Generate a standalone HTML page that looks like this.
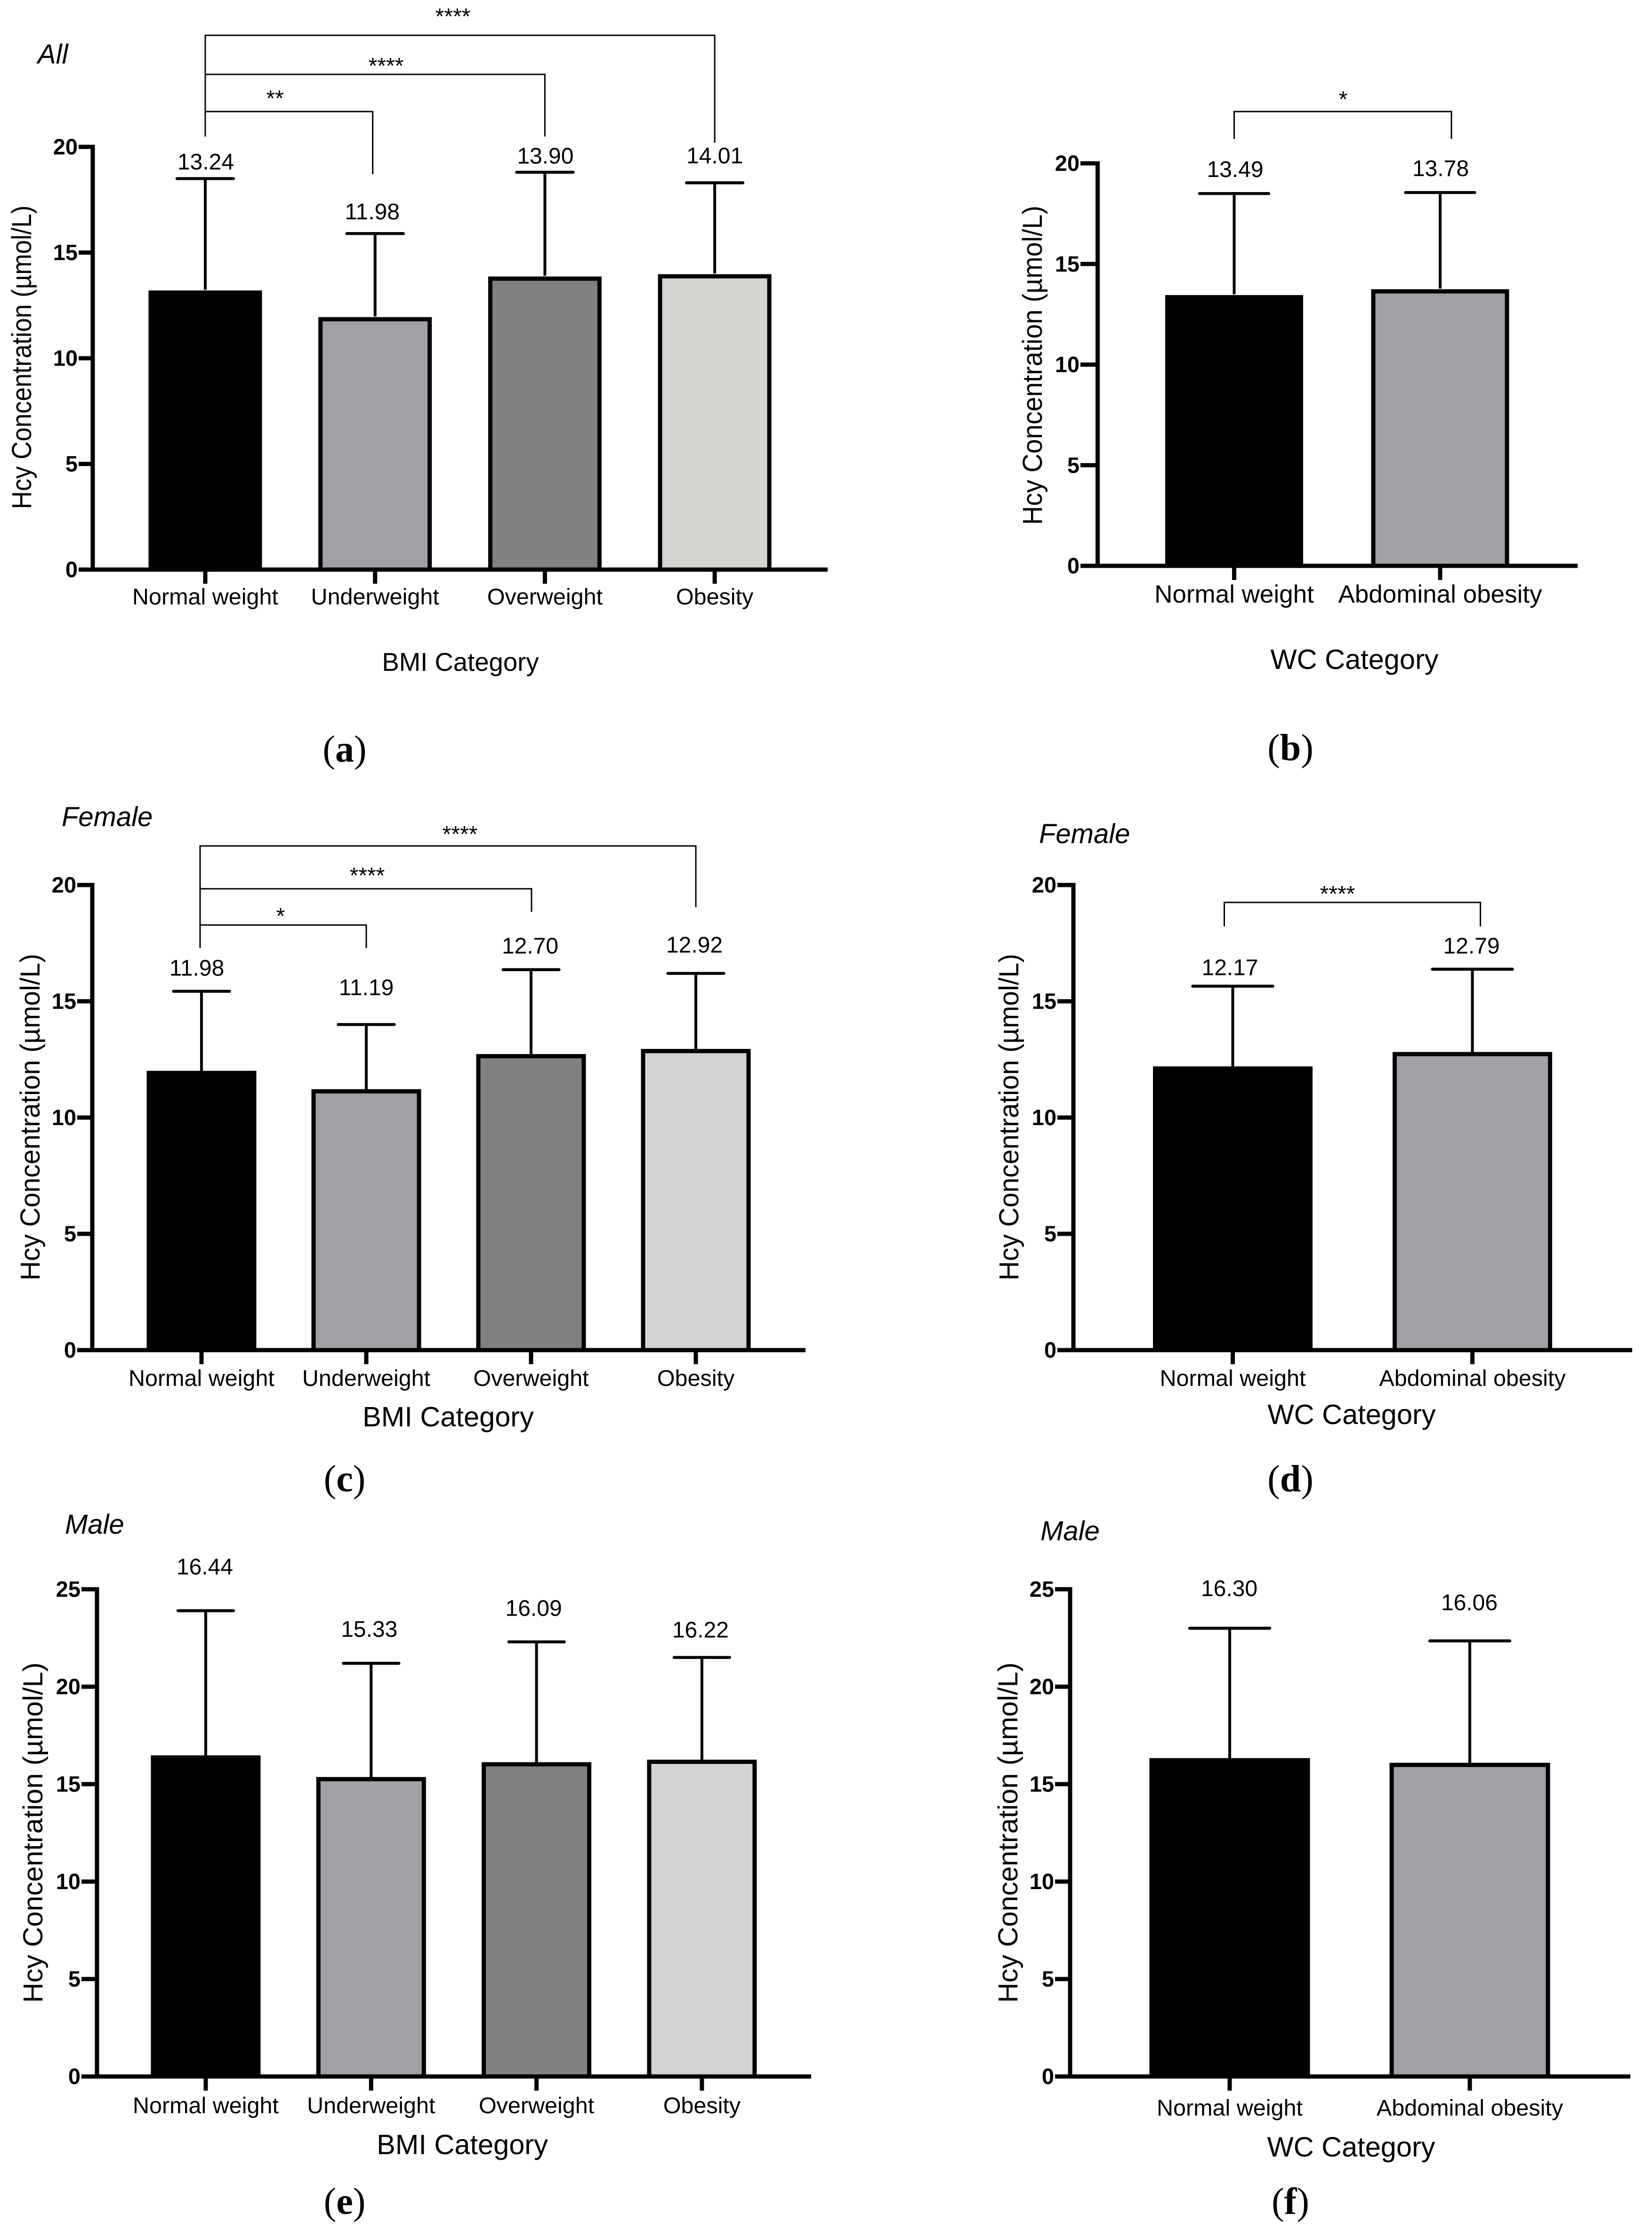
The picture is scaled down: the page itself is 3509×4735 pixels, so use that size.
<!DOCTYPE html>
<html lang="en">
<head>
<meta charset="utf-8">
<title>Hcy concentration by BMI and WC category</title>
<style>
html,body{margin:0;padding:0;background:#fff;}
svg{display:block;}
text{font-family:"Liberation Sans",Arial,sans-serif;fill:#000;}
.panel-title{font-style:italic;font-size:58px;}
.axis-title-y{font-size:58px;text-anchor:middle;}
.axis-title-x{font-size:59.5px;text-anchor:middle;}
.caption{font-family:"Liberation Serif",serif;font-size:80px;text-anchor:middle;}
.caption tspan{font-family:"Liberation Serif",serif;font-weight:bold;}
</style>
</head>
<body>
<svg id="figure" xmlns="http://www.w3.org/2000/svg" width="3509" height="4735" viewBox="0 0 3509 4735">
  <rect x="0" y="0" width="3509" height="4735" fill="#fff"/>

  <text class="panel-title" x="80" y="135">All</text>
  <text class="axis-title-y" transform="translate(66,759) rotate(-90)" textLength="645" lengthAdjust="spacingAndGlyphs">Hcy Concentration (µmol/L)</text>
  <text class="axis-title-x" x="978" y="1425" style="font-size:54.5px">BMI Category</text>
  <text class="caption" x="732" y="1618">(<tspan>a</tspan>)</text>

  <text class="axis-title-y" transform="translate(2213,776) rotate(-90)" textLength="678" lengthAdjust="spacingAndGlyphs">Hcy Concentration (µmol/L)</text>
  <text class="axis-title-x" x="2877" y="1421">WC Category</text>
  <text class="caption" x="2741" y="1615">(<tspan>b</tspan>)</text>

  <text class="panel-title" x="131" y="1755">Female</text>
  <text class="axis-title-y" transform="translate(84,2373) rotate(-90)" textLength="694" lengthAdjust="spacingAndGlyphs">Hcy Concentration (µmol/L)</text>
  <text class="axis-title-x" x="952" y="3030">BMI Category</text>
  <text class="caption" x="732" y="3168">(<tspan>c</tspan>)</text>

  <text class="panel-title" x="2207" y="1791">Female</text>
  <text class="axis-title-y" transform="translate(2163,2373) rotate(-90)" textLength="694" lengthAdjust="spacingAndGlyphs">Hcy Concentration (µmol/L)</text>
  <text class="axis-title-x" x="2871" y="3025">WC Category</text>
  <text class="caption" x="2741" y="3168">(<tspan>d</tspan>)</text>

  <text class="panel-title" x="138" y="3258">Male</text>
  <text class="axis-title-y" transform="translate(90,3893) rotate(-90)" textLength="723" lengthAdjust="spacingAndGlyphs">Hcy Concentration (µmol/L)</text>
  <text class="axis-title-x" x="982" y="4576">BMI Category</text>
  <text class="caption" x="732" y="4703">(<tspan>e</tspan>)</text>

  <text class="panel-title" x="2210" y="3272">Male</text>
  <text class="axis-title-y" transform="translate(2161,3893) rotate(-90)" textLength="723" lengthAdjust="spacingAndGlyphs">Hcy Concentration (µmol/L)</text>
  <text class="axis-title-x" x="2870" y="4581">WC Category</text>
  <text class="caption" x="2741" y="4703">(<tspan>f</tspan>)</text>
</svg>
<script>
// ---- Chart data ----
const categoriesBMI = ["Normal weight", "Underweight", "Overweight", "Obesity"];
const categoriesWC = ["Normal weight", "Abdominal obesity"];
const ticksTo20 = [0, 5, 10, 15, 20];
const ticksTo25 = [0, 5, 10, 15, 20, 25];

const meansA = [13.24, 11.98, 13.90, 14.01];
const sdA = [5.26, 3.92, 4.90, 4.29];
const meansB = [13.49, 13.78];
const sdB = [5.01, 4.77];
const meansC = [11.98, 11.19, 12.70, 12.92];
const sdC = [3.45, 2.81, 3.66, 3.28];
const meansD = [12.17, 12.79];
const sdD = [3.48, 3.59];
const meansE = [16.44, 15.33, 16.09, 16.22];
const sdE = [7.46, 5.87, 6.21, 5.28];
const meansF = [16.30, 16.06];
const sdF = [6.70, 6.29];

const barFills = ["#000000", "#a1a0a5", "#808080", "#d3d3d3"];
const SVG_NS = "http://www.w3.org/2000/svg";
const figure = document.getElementById("figure");

// ---- Panel layout (pixels) ----
const panels = [
  {id: "a", categories: categoriesBMI, means: meansA, sd: sdA, ticks: ticksTo20,
   axisX: 197, y0: 1210, yTop: 312, axisEnd: 1758, tickStart: 167, first: 436, step: 360.7,
   barW: 232, capW: 126, barShift: 6, xLabelY: 1284, xFont: 48.5, valueFont: 48,
   lift: [36, 47, 35, 58], labelDx: [1, -6, 1, 0], lastFill: "#d3d4d0",
   brackets: [
     {from: 0, to: 3, top: 75, leftEnd: 290, rightEnd: 303, dxTo: 0, dxFrom: 0, stars: "****", sx: 962, sy: 26},
     {from: 0, to: 2, top: 158, leftEnd: 290, rightEnd: 290, dxTo: 0, dxFrom: 0, stars: "****", sx: 820, sy: 131},
     {from: 0, to: 1, top: 237, leftEnd: 290, rightEnd: 370, dxTo: -5, dxFrom: 0, stars: "**", sx: 584, sy: 200}
   ]},
  {id: "b", categories: categoriesWC, means: meansB, sd: sdB, ticks: ticksTo20,
   axisX: 2331.5, y0: 1202, yTop: 347, axisEnd: 3351, tickStart: 2295, first: 2621.5, step: 437.5,
   barW: 284, capW: 153, barShift: 6, xLabelY: 1280, xFont: 53, valueFont: 48,
   lift: [52, 52], labelDx: [2, 1],
   brackets: [
     {from: 0, to: 1, top: 237, leftEnd: 295, rightEnd: 295, dxTo: 24, dxFrom: 0, stars: "*", sx: 2853, sy: 202}
   ]},
  {id: "c", categories: categoriesBMI, means: meansC, sd: sdC, ticks: ticksTo20,
   axisX: 196, y0: 2868, yTop: 1880, axisEnd: 1711, tickStart: 164, first: 428, step: 350,
   barW: 224, capW: 125, barShift: 3, xLabelY: 2944, xFont: 48.5, valueFont: 48,
   lift: [50, 79, 51, 61], labelDx: [-10, 0, -2, -3],
   brackets: [
     {from: 0, to: 3, top: 1797, leftEnd: 2014, rightEnd: 1927, dxTo: 0, dxFrom: -3, stars: "****", sx: 977, sy: 1763},
     {from: 0, to: 2, top: 1888, leftEnd: 2014, rightEnd: 1937, dxTo: 1, dxFrom: -3, stars: "****", sx: 780, sy: 1851},
     {from: 0, to: 1, top: 1965, leftEnd: 2014, rightEnd: 2014, dxTo: 0, dxFrom: -3, stars: "*", sx: 596, sy: 1937}
   ]},
  {id: "d", categories: categoriesWC, means: meansD, sd: sdD, ticks: ticksTo20,
   axisX: 2280, y0: 2868, yTop: 1880, axisEnd: 3467, tickStart: 2246, first: 2618.5, step: 509,
   barW: 330, capW: 176, barShift: 3, xLabelY: 2944, xFont: 48.5, valueFont: 48,
   lift: [40, 50], labelDx: [-6, -2],
   brackets: [
     {from: 0, to: 1, top: 1917, leftEnd: 1968, rightEnd: 1968, dxTo: 17, dxFrom: -18, stars: "****", sx: 2841, sy: 1890}
   ]},
  {id: "e", categories: categoriesBMI, means: meansE, sd: sdE, ticks: ticksTo25,
   axisX: 206, y0: 4411, yTop: 3376, axisEnd: 1723, tickStart: 173, first: 437, step: 351.3,
   barW: 224, capW: 124, barShift: 3, xLabelY: 4489, xFont: 48.5, valueFont: 48,
   lift: [94, 73, 72, 59], labelDx: [-2, -4, -6, -3],
   brackets: []},
  {id: "f", categories: categoriesWC, means: meansF, sd: sdF, ticks: ticksTo25,
   axisX: 2273, y0: 4411, yTop: 3376, axisEnd: 3463, tickStart: 2241, first: 2612, step: 510,
   barW: 332, capW: 176, barShift: 3, xLabelY: 4494, xFont: 48.5, valueFont: 48,
   lift: [85, 82], labelDx: [-1, -1],
   brackets: []}
];

function make(tag, attrs, parent) {
  const node = document.createElementNS(SVG_NS, tag);
  Object.keys(attrs).forEach(function (k) { node.setAttribute(k, attrs[k]); });
  parent.appendChild(node);
  return node;
}

function line(x1, y1, x2, y2, width, parent) {
  return make("line", {x1: x1, y1: y1, x2: x2, y2: y2, stroke: "#000", "stroke-width": width}, parent);
}

function label(str, x, y, size, anchor, weight, parent) {
  const t = make("text", {x: x, y: y, "font-size": size, "text-anchor": anchor, "font-weight": weight}, parent);
  t.textContent = str;
  return t;
}

panels.forEach(function (p) {
  const maxTick = p.ticks[p.ticks.length - 1];
  const yScale = function (v) { return p.y0 - (v / maxTick) * (p.y0 - p.yTop); };
  const xScale = function (i) { return p.first + i * p.step; };

  const group = make("g", {}, figure);
  
  

  // y axis line
  const yAxis = line(p.axisX, yScale(maxTick) - 4.5, p.axisX, p.y0 + 4.5, 9, group);
  
  

  // y ticks and labels
  p.ticks.forEach(function (tick) {
    const mark = line(p.tickStart, yScale(tick), p.axisX, yScale(tick), 9, group);
    
    
    const tickText = label(String(tick), p.tickStart - 2, yScale(tick) + 16, 47, "end", "bold", group);
    
    
  });

  // bars, error bars, value labels
  p.means.forEach(function (mean, i) {
    const cx = xScale(i);
    const top = mean + p.sd[i];
    const fill = (i === 3 && p.lastFill) ? p.lastFill : barFills[i];

    const stem = line(cx, yScale(top), cx, yScale(mean), 6, group);
    
    

    const cap = line(cx - p.capW / 2 + 3, yScale(top), cx + p.capW / 2 - 3, yScale(top), 6.3, group);
    cap.setAttribute('stroke-linecap', 'round');
    
    

    const barTop = yScale(mean) + p.barShift;
    const bar = make("rect", {
      x: cx - p.barW / 2, y: barTop, width: p.barW, height: p.y0 - barTop,
      fill: fill, stroke: "#000", "stroke-width": 9
    }, group);
    
    

    const valueText = label(mean.toFixed(2), cx + p.labelDx[i], yScale(top) - p.lift[i] + p.valueFont * 0.35, p.valueFont, "middle", "normal", group);
    
    

    const xTick = line(cx, p.y0, cx, p.y0 + 30, 9, group);
    
    

    const catText = label(p.categories[i], cx, p.xLabelY, p.xFont, "middle", "normal", group);
    
    
  });

  // x axis line drawn over bar bases
  const xAxis = line(p.axisX - 4.5, p.y0, p.axisEnd, p.y0, 9, group);
  
  

  // significance brackets
  p.brackets.forEach(function (b) {
    const x1 = xScale(b.from) + b.dxFrom;
    const x2 = xScale(b.to) + b.dxTo;
    const path = make("path", {
      d: "M" + x1 + " " + b.leftEnd + "V" + b.top + "H" + x2 + "V" + b.rightEnd,
      fill: "none", stroke: "#000", "stroke-width": 3
    }, group);
    
    
    const star = label(b.stars, b.sx, b.sy + 25, 48, "middle", "normal", group);
    
    
  });
});
</script>
</body>
</html>
